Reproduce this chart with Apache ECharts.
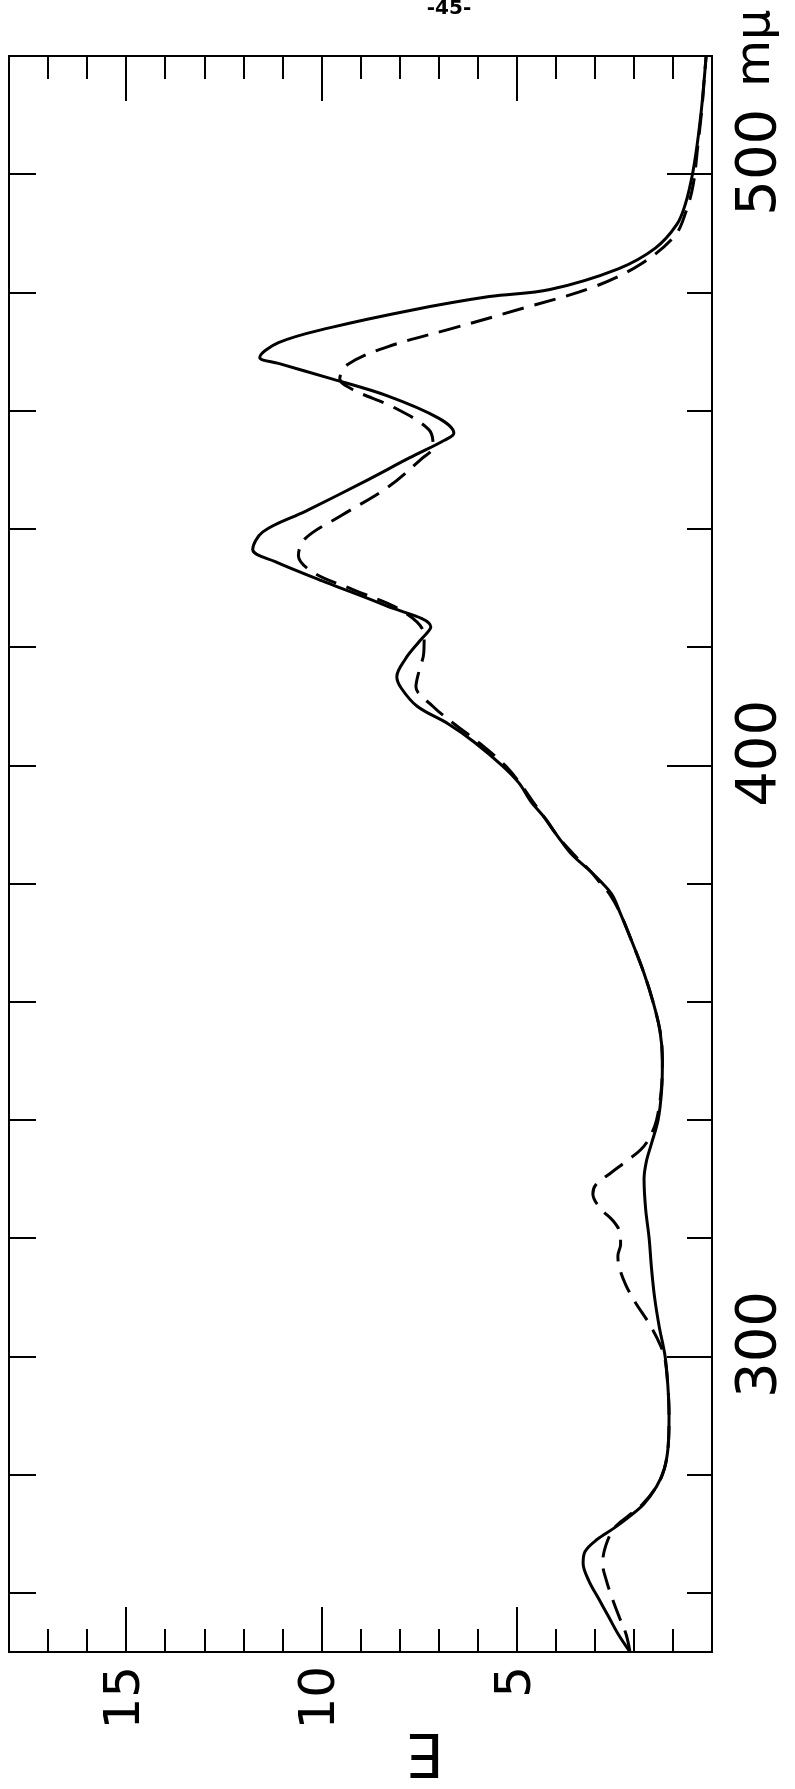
<!DOCTYPE html>
<html>
<head>
<meta charset="utf-8">
<script src="https://cdn.jsdelivr.net/npm/echarts@6/dist/echarts.min.js"></script>
<style>
html,body{margin:0;padding:0;background:#fff;}
#chart{width:795px;height:1789px;}
</style>
</head>
<body>
<div id="chart"></div>
<script>
// ---- data ----
const solidWavelength = [250,253,256,259,262,265,267,269,271,273,275,278,281,285,290,295,300,305,310,315,320,325,330,333,336,340,345,350,355,360,365,371,375,378,380,382,385,388,391,394,397,400,404,407,410,413,415,418,421,423.4,427,431,434.5,436.5,439.5,443,448,452,455,456.2,458.7,462.5,465.5,468,469,471.5,474,477,479.3,480.5,484,487.5,491.5,495,500,505,511,516,520];
const solidE = [2.1,2.4,2.65,2.9,3.15,3.3,3.25,2.95,2.5,2.1,1.75,1.42,1.22,1.12,1.1,1.13,1.2,1.35,1.47,1.55,1.61,1.7,1.74,1.68,1.55,1.38,1.29,1.27,1.33,1.51,1.75,2.1,2.35,2.55,2.8,3.1,3.6,3.95,4.27,4.65,4.94,5.38,6.1,6.75,7.55,7.95,8.07,7.85,7.49,7.2,8.35,9.9,11.2,11.76,11.5,10.4,8.9,7.75,6.85,6.61,6.99,8.31,9.8,11.1,11.58,11.1,9.8,7.7,5.7,4.15,2.4,1.45,0.9,0.68,0.5,0.38,0.27,0.2,0.15];

const dashedWavelength = [250,253,256,259,262,265,268,271,273,275,278,281,285,290,295,300,303,306,309,312,315,317,319,321,323,325,327.5,329,331,333,335,337,340,345,350,355,360,365,371,375,378,380,382,385,388,391,394,397,400,404,407,410,413.3,416,419,422,426,429.7,432.6,435.5,438.4,442.3,447,451.9,453.9,456.8,460.6,463.5,465.4,467.8,470.8,474,477.4,480.9,484.7,489.6,494,498.3,505,511,516,520];
const dashedE = [2.1,2.2,2.38,2.55,2.7,2.8,2.72,2.5,2.15,1.78,1.42,1.22,1.12,1.1,1.13,1.22,1.4,1.65,1.95,2.2,2.37,2.41,2.34,2.36,2.54,2.85,3.05,2.98,2.6,2.2,1.82,1.6,1.42,1.3,1.27,1.33,1.51,1.75,2.1,2.35,2.6,2.85,3.1,3.55,3.95,4.27,4.6,4.92,5.3,6.0,6.6,7.15,7.58,7.5,7.38,7.37,7.9,9.18,10.2,10.59,10.41,9.48,8.31,7.43,7.14,7.25,8.16,9.18,9.53,9.33,8.31,6.6,4.8,3.04,1.85,0.95,0.65,0.48,0.36,0.26,0.2,0.15];

const eMin = 0, eMax = 18;
const wlMin = 250, wlMax = 520;
const eMajorLabels = [5, 10, 15];
const wlTicks = [260,280,300,320,340,360,380,400,420,440,460,480,500];
const wlMajor = [300,400,500];
const wlLabelText = {300:'300', 400:'400', 500:'500'};
const unitText = 'mμ';
const axisTitle = 'E';
const pageNumber = '-45-';

// ---- chart ----
const chart = echarts.init(document.getElementById('chart'), null, {renderer:'canvas'});
const FONT = 'DejaVu Sans';
const black = '#000';

function xAx(pos, interval, len, showLabel) {
  return {
    type:'value', position:pos, min:eMin, max:eMax, inverse:true, interval:interval,
    axisLine:{show:true, onZero:false, lineStyle:{color:black, width:2}},
    axisTick:{show:true, inside:true, length:len, lineStyle:{color:black, width:2}},
    axisLabel:{show:showLabel, rotate:90, margin:14, color:black, fontFamily:FONT, fontSize:50,
      formatter: v => eMajorLabels.includes(v) ? String(v) : ''},
    splitLine:{show:false}
  };
}
function yAx(pos, ticks, len, showLabel) {
  return {
    type:'value', position:pos, min:wlMin, max:wlMax, interval:10,
    axisLine:{show:true, onZero:false, lineStyle:{color:black, width:2}},
    axisTick:{show:true, inside:true, length:len, customValues:ticks, lineStyle:{color:black, width:2}},
    axisLabel:{show:showLabel, customValues:wlMajor, rotate:90, margin:20, color:black, fontFamily:FONT, fontSize:56,
      padding:[0,0,0,24],
      formatter: v => wlLabelText[v] || ''},
    splitLine:{show:false}
  };
}

const solidData = solidWavelength.map((w,i)=>[solidE[i], w]);
const dashedData = dashedWavelength.map((w,i)=>[dashedE[i], w]);

chart.setOption({
  backgroundColor:'#fff',
  animation:false,
  grid:{left:9, top:56, width:703, height:1596, containLabel:false},
  xAxis:[
    xAx('bottom', 1, 23, false),
    xAx('bottom', 5, 45, true),
    xAx('top', 1, 23, false),
    xAx('top', 5, 45, false)
  ],
  yAxis:[
    yAx('left', wlTicks, 27, false),
    yAx('right', wlTicks, 25, false),
    yAx('right', wlMajor, 45, true)
  ],
  series:[
    {type:'line', name:'solid', xAxisIndex:0, yAxisIndex:0, data:solidData, showSymbol:false, smooth:0.35,
     lineStyle:{color:black, width:3, type:'solid'}},
    {type:'line', name:'dashed', xAxisIndex:0, yAxisIndex:0, data:dashedData, showSymbol:false, smooth:0.35,
     lineStyle:{color:black, width:3, type:[22,11]}}
  ],
  graphic:[
    {type:'text', x:425, y:1750, rotation:Math.PI, style:{text:axisTitle, fill:black, font:'60px "DejaVu Sans"', textAlign:'center', textVerticalAlign:'middle'}},
    {type:'text', x:757, y:48, rotation:Math.PI/2, style:{text:unitText, fill:black, font:'48px "DejaVu Sans"', textAlign:'center', textVerticalAlign:'middle'}},
    {type:'text', x:449, y:9, style:{text:pageNumber, fill:black, font:'bold 20px "DejaVu Sans"', textAlign:'center', textVerticalAlign:'middle'}}
  ]
});
</script>
</body>
</html>
